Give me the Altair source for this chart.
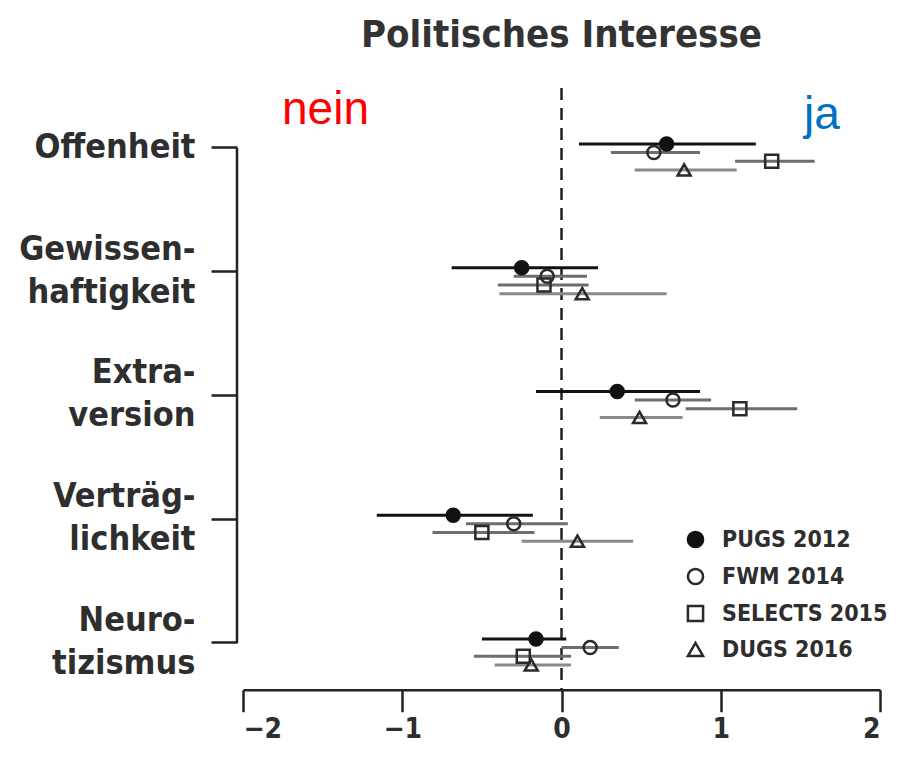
import altair as alt
import pandas as pd

# ---------------- data ----------------
traits = ["Offenheit", "Gewissen-|haftigkeit", "Extra-|version", "Verträg-|lichkeit", "Neuro-|tizismus"]
series = ["PUGS 2012", "FWM 2014", "SELECTS 2015", "DUGS 2016"]

pugs_est = [0.66, -0.25, 0.35, -0.68, -0.16]
pugs_lo = [0.11, -0.69, -0.16, -1.16, -0.50]
pugs_hi = [1.22, 0.23, 0.87, -0.18, 0.03]

fwm_est = [0.58, -0.09, 0.70, -0.30, 0.18]
fwm_lo = [0.31, -0.30, 0.46, -0.60, 0.00]
fwm_hi = [0.87, 0.16, 0.94, 0.04, 0.36]

selects_est = [1.32, -0.11, 1.12, -0.50, -0.24]
selects_lo = [1.09, -0.40, 0.78, -0.81, -0.55]
selects_hi = [1.59, 0.17, 1.48, -0.17, 0.06]

dugs_est = [0.77, 0.13, 0.49, 0.10, -0.19]
dugs_lo = [0.46, -0.39, 0.24, -0.25, -0.42]
dugs_hi = [1.10, 0.66, 0.76, 0.45, 0.06]

x_ticks = [-2, -1, 0, 1, 2]

rows = []
for s, est, lo, hi in zip(
    series,
    [pugs_est, fwm_est, selects_est, dugs_est],
    [pugs_lo, fwm_lo, selects_lo, dugs_lo],
    [pugs_hi, fwm_hi, selects_hi, dugs_hi],
):
    for t, e, l, h in zip(traits, est, lo, hi):
        rows.append({"trait": t, "series": s, "est": e, "lo": l, "hi": h})
df = pd.DataFrame(rows)

# ---------------- styling ----------------
FONT = "DejaVu Sans Condensed, Liberation Sans Narrow, DejaVu Sans, sans-serif"
INK = "#222222"
TXT = "#2e2e2e"
W = 637
STEP = 123.75
H = STEP * len(traits)

y_scale = alt.Scale(domain=traits, paddingInner=0, paddingOuter=0)
y_axis = alt.Axis(
    title=None, domain=False, ticks=True, tickSize=26, tickWidth=2.5, tickColor=INK,
    offset=6, labelExpr="split(datum.value, '|')", labelFontSize=34, labelFontWeight="bold",
    labelLineHeight=43, labelPadding=16, labelColor=TXT, labelFont=FONT, labelLimit=400,
    labelOffset={"condition": {"test": "indexof(datum.value, '|') >= 0", "value": -22}, "value": 0},
)
x_scale = alt.Scale(domain=[-2, 2], nice=False, zero=False)
x_axis = alt.Axis(
    title=None, values=x_ticks, grid=False, domainWidth=2.5, domainColor=INK,
    tickSize=22, tickWidth=2.5, tickColor=INK, labelFontSize=28, labelFontWeight="bold",
    labelFont=FONT, labelColor=TXT, labelPadding=4, offset=-15, format="d",
)

yenc = alt.Y("trait:N", sort=traits, scale=y_scale, axis=y_axis)
yoff = alt.YOffset(
    "series:N", sort=series,
    scale=alt.Scale(domain=series, type="point", range=[57.9, 83.9], padding=0),
)

legend = alt.Legend(
    title=None, orient="none", legendX=441, legendY=442, symbolSize=230,
    symbolStrokeWidth=2.5, labelFontSize=23, labelFontWeight="bold", labelFont=FONT,
    labelColor=TXT, labelOffset=15, labelLimit=400, rowPadding=10, padding=0,
)

base = alt.Chart(df)

ci = base.mark_rule(strokeWidth=3).encode(
    x=alt.X("lo:Q", scale=x_scale, axis=x_axis),
    x2="hi:Q",
    y=yenc,
    yOffset=yoff,
    color=alt.Color(
        "series:N", sort=series,
        scale=alt.Scale(domain=series, range=["#111111", "#6e6e6e", "#6e6e6e", "#8a8a8a"]),
        legend=None,
    ),
)

pts = base.mark_point(size=170, strokeWidth=2.5, opacity=1).encode(
    x=alt.X("est:Q", scale=x_scale, axis=x_axis),
    y=yenc,
    yOffset=yoff,
    shape=alt.Shape(
        "series:N", sort=series,
        scale=alt.Scale(domain=series, range=["circle", "circle", "square", "triangle-up"]),
        legend=legend,
    ),
    fill=alt.Fill(
        "series:N", sort=series,
        scale=alt.Scale(domain=series, range=["#111111", "transparent", "transparent", "transparent"]),
        legend=legend,
    ),
    stroke=alt.Stroke(
        "series:N", sort=series,
        scale=alt.Scale(domain=series, range=["#111111", "#2a2a2a", "#2a2a2a", "#2a2a2a"]),
        legend=legend,
    ),
)

zero_line = alt.Chart(pd.DataFrame({"zero": [0]})).mark_rule(
    strokeDash=[12, 8], strokeWidth=2.5, color=INK
).encode(x=alt.X("zero:Q", scale=x_scale, axis=x_axis), y=alt.value(2), y2=alt.value(604))

y_line = alt.Chart(pd.DataFrame({"d": [0]})).mark_rule(strokeWidth=2.5, color=INK).encode(
    x=alt.value(-6), y=alt.datum(traits[0]), y2=alt.datum(traits[-1])
)

title = alt.Chart(pd.DataFrame({"d": [0]})).mark_text(
    text="Politisches Interesse", font=FONT, fontSize=38, fontWeight="bold", color="#333333",
    align="center", baseline="alphabetic",
).encode(x=alt.value(W / 2), y=alt.value(-39))

nein = alt.Chart(pd.DataFrame({"d": [0]})).mark_text(
    text="nein", font="Liberation Sans, Arial, sans-serif", fontSize=46, color="#ff0000",
    align="left", baseline="alphabetic",
).encode(x=alt.value(39), y=alt.value(38))

ja = alt.Chart(pd.DataFrame({"d": [0]})).mark_text(
    text="ja", font="Liberation Sans, Arial, sans-serif", fontSize=46, color="#0070c0",
    align="left", baseline="alphabetic",
).encode(x=alt.value(561), y=alt.value(43))

chart = (
    alt.layer(zero_line, y_line, ci, pts, title, nein, ja)
    .resolve_scale(color="independent")
    .properties(
        width=W, height=H,
        padding={"left": 235, "top": 78, "right": 15, "bottom": 40},
        autosize=alt.AutoSizeParams(type="none"),
        background="white",
    )
    .configure_view(stroke=None)
)

chart.save("out.html", embed_options={"renderer": "svg", "actions": False})
